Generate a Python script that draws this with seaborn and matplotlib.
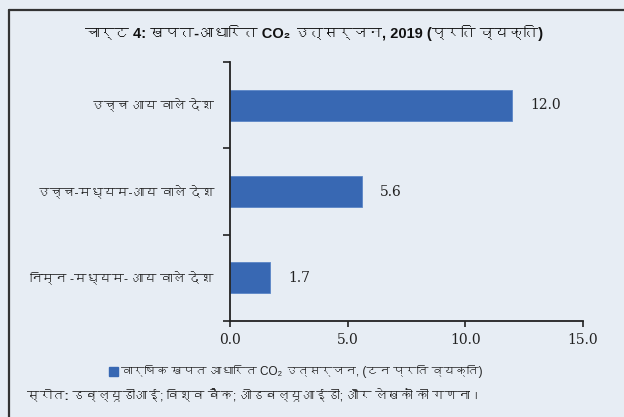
import matplotlib
matplotlib.use("Agg")
import matplotlib.pyplot as plt
from matplotlib import font_manager as fm
from matplotlib import ft2font
from matplotlib.lines import Line2D
from matplotlib.patches import Patch
import seaborn as sns
import pandas as pd

# ---- data ----
categories = ["उच्च आय वाले देश", "उच्च-मध्यम-आय वाले देश", "निम्न -मध्यम- आय वाले देश"]
values = [12.0, 5.6, 1.7]
x_ticks = [0, 5, 10, 15]
x_tick_labels = ["0.0", "5.0", "10.0", "15.0"]
title_text = "चार्ट 4: खपत-आधारित CO₂ उत्सर्जन, 2019 (प्रति व्यक्ति)"
legend_text = "वार्षिक खपत आधारित CO₂ उत्सर्जन, (टन प्रति व्यक्ति)"
source_bold = "स्रोत:"
source_rest = " डब्ल्यूडीआई; विश्व बैंक; ओडबल्यूआईडी; और लेखकों की गणना।"

# ---- find a font with Devanagari glyphs, if any ----
deva_family = None
for f in fm.fontManager.ttflist:
    try:
        cm = ft2font.FT2Font(f.fname).get_charmap()
    except Exception:
        continue
    if 0x0915 in cm:
        deva_family = f.name
        break

sns.set_theme(style="white")
BG = "#e7edf4"
BAR = "#3868b3"
DARK = "#222222"

sans = ["Liberation Sans"] + ([deva_family] if deva_family else []) + ["DejaVu Sans"]
serif = ["DejaVu Serif"]
plt.rcParams["font.family"] = sans

fig = plt.figure(figsize=(6.24, 4.17), dpi=100, facecolor=BG)
ax = fig.add_axes([230/624, 1 - 321/417, (583-230)/624, (321-62)/417])
ax.set_facecolor(BG)

df = pd.DataFrame({"cat": categories, "val": values})
sns.barplot(data=df, x="val", y="cat", orient="h", color=BAR, width=0.36,
            saturation=1, ax=ax, edgecolor="#5b86c6", linewidth=0.6)

ax.set_xlim(0, 15)
ax.set_ylim(2.5, -0.5)
ax.set_xlabel("")
ax.set_ylabel("")
ax.set_xticks(x_ticks)
ax.set_xticklabels(x_tick_labels, fontfamily=serif, fontsize=10, color=DARK)
ax.set_yticks(range(len(categories)))
ax.set_yticklabels(categories, fontsize=9, color=DARK)
ax.tick_params(axis="y", which="major", length=0, pad=11.5)
ax.set_yticks([-0.5, 0.5, 1.5, 2.5], minor=True)
ax.tick_params(axis="y", which="minor", length=5, width=1.2, color=DARK, direction="out", left=True)
ax.tick_params(axis="x", which="major", length=4, width=1.2, color=DARK, direction="out", bottom=True, pad=5)

for s in ["top", "right"]:
    ax.spines[s].set_visible(False)
for s in ["left", "bottom"]:
    ax.spines[s].set_color(DARK)
    ax.spines[s].set_linewidth(1.3)
ax.grid(False)

for i, v in enumerate(values):
    ax.annotate(f"{v:.1f}", xy=(v, i), xytext=(13, 0), textcoords="offset points",
                va="center", ha="left", fontfamily=serif, fontsize=10, color=DARK)

# frame lines
fx = 9/624
fy = 1 - 10/417
fig.add_artist(Line2D([fx, fx], [0, fy], transform=fig.transFigure, color="#333333", lw=1.6))
fig.add_artist(Line2D([fx, 1], [fy, fy], transform=fig.transFigure, color="#333333", lw=1.6))

fig.text(314/624, 1 - 33/417, title_text, ha="center", va="center",
         fontsize=10.5, fontweight="bold", color="#111111")

fig.legend(handles=[Patch(facecolor=BAR, edgecolor=BAR)], labels=[legend_text],
           loc="center", bbox_to_anchor=(296/624, 1 - 372/417), frameon=False,
           handlelength=0.7, handleheight=0.7, handletextpad=0.3,
           prop={"size": 8.5}, labelcolor=DARK)

t1 = fig.text(27/624, 1 - 396/417, source_bold, ha="left", va="center",
              fontsize=9, fontweight="bold", color=DARK)
ax.annotate(source_rest, xy=(1, 0.5), xycoords=t1, ha="left", va="center",
            fontsize=9, color=DARK, annotation_clip=False)

fig.savefig("out.png", dpi=100, facecolor=BG)
